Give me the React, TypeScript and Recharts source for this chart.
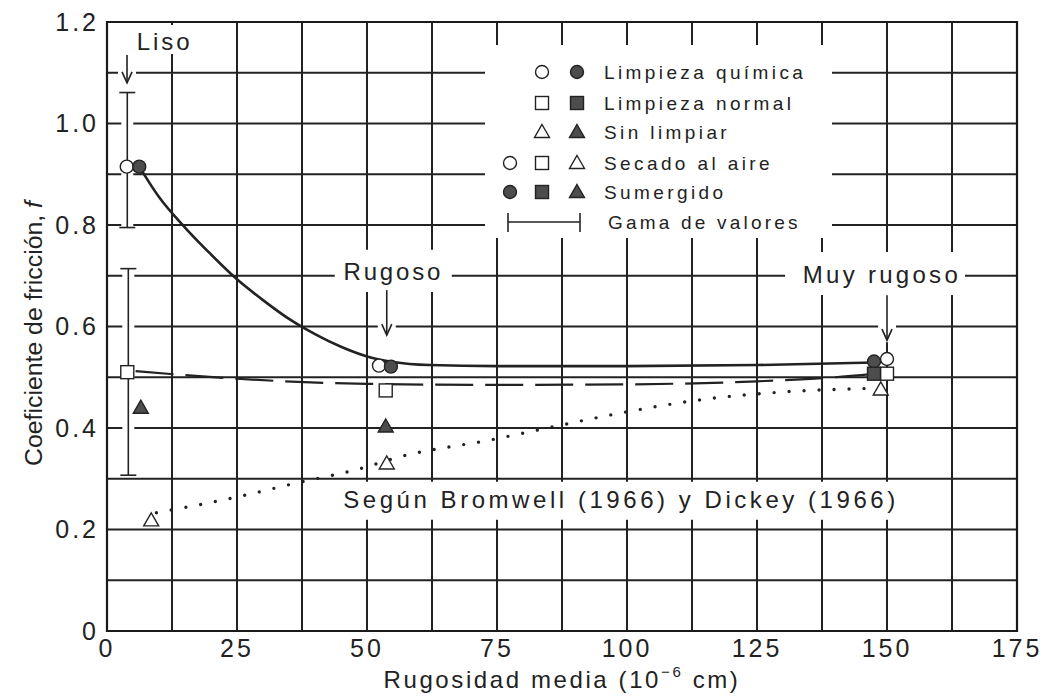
import {
  ComposedChart,
  Line,
  Scatter,
  XAxis,
  YAxis,
  CartesianGrid,
  ErrorBar,
  ReferenceArea,
  ReferenceDot,
} from 'recharts';

const FONT = '"Liberation Sans", Arial, sans-serif';
const INK = '#222';
const DARK = '#4d4d4d';

const xTicks = [0, 12.5, 25, 37.5, 50, 62.5, 75, 87.5, 100, 112.5, 125, 137.5, 150, 162.5, 175];
const yTicks = [0, 0.1, 0.2, 0.3, 0.4, 0.5, 0.6, 0.7, 0.8, 0.9, 1.0, 1.1, 1.2];

// fitted curves
const quimicaCurve = [
  { x: 6.2, y: 0.915 }, { x: 10, y: 0.855 }, { x: 15, y: 0.795 }, { x: 20, y: 0.742 },
  { x: 25, y: 0.693 }, { x: 30, y: 0.652 }, { x: 35, y: 0.615 }, { x: 40, y: 0.585 },
  { x: 45, y: 0.56 }, { x: 50, y: 0.541 }, { x: 55, y: 0.53 }, { x: 62, y: 0.524 },
  { x: 75, y: 0.522 }, { x: 100, y: 0.522 }, { x: 125, y: 0.524 }, { x: 147.5, y: 0.529 },
];
const normalCurve = [
  { x: 5.5, y: 0.512 }, { x: 25, y: 0.497 }, { x: 50, y: 0.487 }, { x: 75, y: 0.485 },
  { x: 100, y: 0.486 }, { x: 125, y: 0.492 }, { x: 140, y: 0.5 }, { x: 147.5, y: 0.507 },
];
const sinLimpiarCurve = [
  { x: 9.5, y: 0.233 }, { x: 25, y: 0.264 }, { x: 37, y: 0.293 }, { x: 48, y: 0.318 },
  { x: 57, y: 0.345 }, { x: 74, y: 0.377 }, { x: 87, y: 0.405 }, { x: 99, y: 0.43 },
  { x: 116, y: 0.458 }, { x: 130, y: 0.471 }, { x: 147, y: 0.478 },
];

// measured points
const quimicaAire = [{ x: 3.8, y: 0.915 }, { x: 52.3, y: 0.523 }, { x: 150, y: 0.536 }];
const quimicaSumergido = [{ x: 6.2, y: 0.915 }, { x: 54.6, y: 0.521 }, { x: 147.5, y: 0.531 }];
const normalAire = [{ x: 3.9, y: 0.51 }, { x: 53.6, y: 0.474 }, { x: 150, y: 0.507 }];
const normalSumergido = [{ x: 147.5, y: 0.507 }];
const sinLimpiarAire = [{ x: 8.5, y: 0.218 }, { x: 53.8, y: 0.33 }, { x: 148.8, y: 0.476 }];
const sinLimpiarSumergido = [{ x: 6.5, y: 0.44 }, { x: 53.6, y: 0.403 }];

// ranges of values (gama de valores)
const rangeX = [3.9, 4.1];
const rangeLow = [0.795, 0.307];
const rangeHigh = [1.061, 0.714];
const rangeData = rangeX.map((x, i) => ({ x, y: rangeLow[i], err: [0, rangeHigh[i] - rangeLow[i]] }));

const legendRows = [
  { label: 'Limpieza química', marks: [null, ['circle', false], ['circle', true]] },
  { label: 'Limpieza normal', marks: [null, ['square', false], ['square', true]] },
  { label: 'Sin limpiar', marks: [null, ['triangle', false], ['triangle', true]] },
  { label: 'Secado al aire', marks: [['circle', false], ['square', false], ['triangle', false]] },
  { label: 'Sumergido', marks: [['circle', true], ['square', true], ['triangle', true]] },
];

function Marker({ kind, filled, cx, cy }: { kind: string; filled: boolean; cx: number; cy: number }) {
  const fill = filled ? DARK : '#fff';
  const common = { fill, stroke: INK, strokeWidth: 1.4 };
  if (kind === 'circle') return <circle cx={cx} cy={cy} r={6.5} {...common} />;
  if (kind === 'square') return <rect x={cx - 6.5} y={cy - 6.5} width={13} height={13} {...common} />;
  return <polygon points={`${cx},${cy - 7.5} ${cx + 7.5},${cy + 5.5} ${cx - 7.5},${cy + 5.5}`} {...common} />;
}

const shapeOf = (kind: string, filled: boolean) => (p: any) => (
  <Marker kind={kind} filled={filled} cx={p.cx} cy={p.cy} />
);

const arrowShape = (len: number) => (p: any) => (
  <g>
    <rect x={p.cx - 9} y={p.cy - len - 2} width={18} height={len + 4} fill="#fff" />
    <line x1={p.cx} y1={p.cy - len} x2={p.cx} y2={p.cy} stroke={INK} strokeWidth={1.6} />
    <polyline
      points={`${p.cx - 5},${p.cy - 11} ${p.cx},${p.cy} ${p.cx + 5},${p.cy - 11}`}
      fill="none"
      stroke={INK}
      strokeWidth={1.6}
    />
  </g>
);

const textShape = (text: string, width: number) => (p: any) => (
  <text
    x={p.cx}
    y={p.cy}
    textAnchor="middle"
    fontFamily={FONT}
    fontSize={24}
    fill={INK}
    textLength={width}
    lengthAdjust="spacing"
  >
    {text}
  </text>
);

const XTitle = (props: any) => {
  const vb = props.viewBox;
  return (
    <text
      x={vb.x + vb.width / 2}
      y={vb.y + 57}
      textAnchor="middle"
      fontFamily={FONT}
      fontSize={24}
      letterSpacing={2.6}
      fill={INK}
    >
      Rugosidad media (10
      <tspan dy={-11} fontSize={15}>−6</tspan>
      <tspan dy={11}> cm)</tspan>
    </text>
  );
};

const YTitle = (props: any) => {
  const vb = props.viewBox;
  const cx = 34;
  const cy = vb.y + vb.height / 2 + 7;
  return (
    <text
      transform={`rotate(-90 ${cx} ${cy})`}
      x={cx}
      y={cy}
      textAnchor="middle"
      dominantBaseline="central"
      fontFamily={FONT}
      fontSize={23}
      fill={INK}
      textLength={265}
      lengthAdjust="spacingAndGlyphs"
    >
      Coeficiente de fricción, <tspan fontStyle="italic">f</tspan>
    </text>
  );
};

function Legend() {
  const cols = [510, 542, 577];
  const rows = [72, 103, 132, 163, 192];
  return (
    <svg width={1060} height={696} style={{ position: 'absolute', left: 0, top: 0, pointerEvents: 'none' }}>
      <rect x={485} y={45} width={347} height={193} fill="#fff" />
      {legendRows.map((row, i) => (
        <g key={row.label}>
          {row.marks.map((m, j) =>
            m ? <Marker key={j} kind={m[0] as string} filled={m[1] as boolean} cx={cols[j]} cy={rows[i]} /> : null
          )}
          <text x={604} y={rows[i] + 7} fontFamily={FONT} fontSize={19} letterSpacing={3.4} fill={INK}>
            {row.label}
          </text>
        </g>
      ))}
      <g stroke={INK} strokeWidth={1.6}>
        <line x1={508} y1={222} x2={580} y2={222} />
        <line x1={508} y1={213} x2={508} y2={232} />
        <line x1={580} y1={213} x2={580} y2={232} />
      </g>
      <text x={608} y={229} fontFamily={FONT} fontSize={19} letterSpacing={3.2} fill={INK}>
        Gama de valores
      </text>
    </svg>
  );
}

const tickStyle = { fill: INK, fontSize: 25, fontFamily: FONT, letterSpacing: 3 };

export default function App() {
  return (
    <div style={{ position: 'absolute', left: 0, top: 0, width: 1060, height: 696, background: '#fff' }}>
      <ComposedChart width={1060} height={696} margin={{ top: 22, right: 43, bottom: 0, left: 0 }}>
        <CartesianGrid stroke={INK} strokeWidth={2} />
        <XAxis
          type="number"
          dataKey="x"
          domain={[0, 175]}
          ticks={xTicks}
          allowDataOverflow
          height={65}
          axisLine={false}
          tickLine={false}
          interval={0}
          tick={tickStyle}
          tickFormatter={(v: number) => (v % 25 === 0 ? String(v) : '')}
          label={{ content: XTitle }}
        />
        <YAxis
          type="number"
          dataKey="y"
          domain={[0, 1.2]}
          ticks={yTicks}
          allowDataOverflow
          width={107}
          axisLine={false}
          tickLine={false}
          interval={0}
          tick={tickStyle}
          tickFormatter={(v: number, i: number) => (i % 2 === 0 ? (v === 0 ? '0' : v.toFixed(1)) : '')}
          label={{ content: YTitle }}
        />

        <ReferenceArea x1={4.8} x2={17.1} y1={1.137} y2={1.194} fill="#fff" fillOpacity={1} stroke="none" />
        <ReferenceArea x1={43.8} x2={66.3} y1={0.668} y2={0.751} fill="#fff" fillOpacity={1} stroke="none" />
        <ReferenceArea x1={130.4} x2={165} y1={0.662} y2={0.747} fill="#fff" fillOpacity={1} stroke="none" />
        <ReferenceArea x1={44.4} x2={152.5} y1={0.219} y2={0.294} fill="#fff" fillOpacity={1} stroke="none" />

        <ReferenceDot x={10.8} y={1.145} shape={textShape('Liso', 53)} />
        <ReferenceDot x={3.85} y={1.08} shape={arrowShape(28)} />
        <ReferenceDot x={54.8} y={0.692} shape={textShape('Rugoso', 97)} />
        <ReferenceDot x={53.8} y={0.583} shape={arrowShape(45)} />
        <ReferenceDot x={148.7} y={0.686} shape={textShape('Muy rugoso', 155)} />
        <ReferenceDot x={150} y={0.573} shape={arrowShape(45)} />
        <ReferenceDot x={98.5} y={0.242} shape={textShape('Según Bromwell (1966) y Dickey (1966)', 552)} />

        <Line data={quimicaCurve} dataKey="y" type="monotone" stroke={INK} strokeWidth={2.6} dot={false} activeDot={false} isAnimationActive={false} />
        <Line data={normalCurve} dataKey="y" type="monotone" stroke={INK} strokeWidth={2.2} strokeDasharray="38 12" dot={false} activeDot={false} isAnimationActive={false} />
        <Line data={sinLimpiarCurve} dataKey="y" type="monotone" stroke={INK} strokeWidth={3.4} strokeLinecap="round" strokeDasharray="0 15" dot={false} activeDot={false} isAnimationActive={false} />

        <Scatter data={rangeData} dataKey="y" shape={() => <g />} isAnimationActive={false}>
          <ErrorBar dataKey="err" direction="y" width={0} stroke="#fff" strokeWidth={12} />
        </Scatter>
        <Scatter data={rangeData} dataKey="y" shape={() => <g />} isAnimationActive={false}>
          <ErrorBar dataKey="err" direction="y" width={8} stroke={INK} strokeWidth={1.6} />
        </Scatter>
        <Scatter data={quimicaAire} dataKey="y" shape={shapeOf('circle', false)} isAnimationActive={false} />
        <Scatter data={quimicaSumergido} dataKey="y" shape={shapeOf('circle', true)} isAnimationActive={false} />
        <Scatter data={normalAire} dataKey="y" shape={shapeOf('square', false)} isAnimationActive={false} />
        <Scatter data={normalSumergido} dataKey="y" shape={shapeOf('square', true)} isAnimationActive={false} />
        <Scatter data={sinLimpiarAire} dataKey="y" shape={shapeOf('triangle', false)} isAnimationActive={false} />
        <Scatter data={sinLimpiarSumergido} dataKey="y" shape={shapeOf('triangle', true)} isAnimationActive={false} />

        <ReferenceArea x1={0} x2={175} y1={0} y2={1.2} fill="none" stroke="#1a1a1a" strokeWidth={2.2} />
      </ComposedChart>
      <Legend />
    </div>
  );
}
